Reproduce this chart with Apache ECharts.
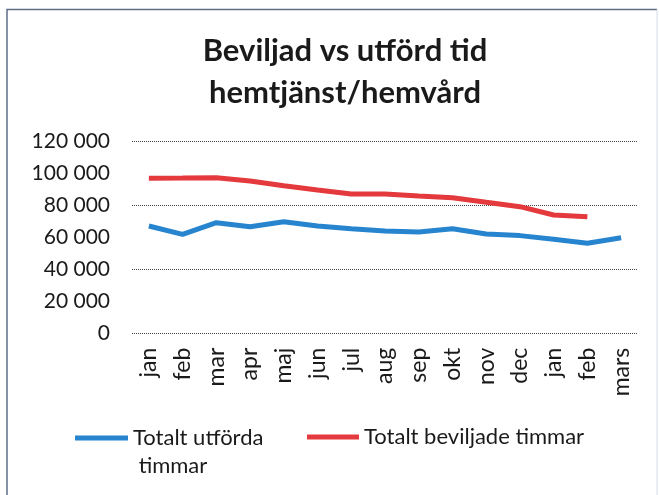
<!DOCTYPE html>
<html>
<head>
<meta charset="utf-8">
<script src="https://cdn.jsdelivr.net/npm/echarts@6/dist/echarts.min.js"></script>
<style>
html,body{margin:0;padding:0;background:#fff;}
#c{width:659px;height:495px;}
</style>
</head>
<body>
<div id="c"></div>
<script>
const months = ['jan','feb','mar','apr','maj','jun','jul','aug','sep','okt','nov','dec','jan','feb','mars'];
const utforda = [67300, 62100, 69400, 66900, 70000, 67300, 65600, 64200, 63600, 65600, 62300, 61300, 59000, 56500, 60000];
const beviljade = [97200, 97300, 97500, 95400, 92500, 89800, 87300, 87300, 86000, 85000, 82100, 79400, 74200, 73100, null];
const nameUtforda = 'Totalt utförda\ntimmar';
const nameBeviljade = 'Totalt beviljade timmar';
const titleText = 'Beviljad vs utförd tid\nhemtjänst/hemvård';

const fmt = v => String(v).replace(/\B(?=(\d{3})+(?!\d))/g, ' ');
const FONT = 'Lato';

const chart = echarts.init(document.getElementById('c'));
chart.setOption({
  animation: false,
  backgroundColor: '#fff',
  title: {
    text: titleText,
    left: 340, top: 25, textAlign: 'center',
    textStyle: { fontFamily: FONT, fontWeight: 'bold', fontSize: 31, lineHeight: 42, color: '#1a1a1a' }
  },
  graphic: [
    { type: 'polyline', shape: { points: [[7, 495], [7, 9.5], [657, 9.5]] }, style: { stroke: '#5d6e88', lineWidth: 1.5, fill: null } },
    { type: 'line', shape: { x1: 657, y1: 9.5, x2: 657, y2: 495 }, style: { stroke: '#d5dbe4', lineWidth: 1 } }
  ],
  legend: [
    {
      data: [nameUtforda], left: 75, top: 396, icon: 'rect', padding: 0,
      itemWidth: 53, itemHeight: 5, itemGap: 0,
      formatter: n => '\n' + n.replace('\n', '\n '),
      textStyle: { fontFamily: FONT, fontSize: 22, color: '#1a1a1a', lineHeight: 28 }
    },
    {
      data: [nameBeviljade], left: 307, top: 423, icon: 'rect', padding: 0,
      itemWidth: 52, itemHeight: 5, itemGap: 0,
      textStyle: { fontFamily: FONT, fontSize: 22, color: '#1a1a1a', lineHeight: 28 }
    }
  ],
  grid: { left: 132, right: 21, top: 141.7, bottom: 161.3 },
  xAxis: {
    type: 'category', data: months, boundaryGap: true,
    axisLine: { show: false }, axisTick: { show: false },
    axisLabel: { rotate: 90, margin: 14, fontFamily: FONT, fontSize: 23, color: '#1a1a1a', interval: 0 }
  },
  yAxis: [
    {
      type: 'value', min: 0, max: 120000, interval: 20000,
      axisLine: { show: false }, axisTick: { show: false }, splitLine: { show: false },
      axisLabel: { margin: 22, fontFamily: FONT, fontSize: 21, color: '#1a1a1a', formatter: fmt }
    },
    {
      type: 'value', min: 0, max: 120000, interval: 40000, position: 'left',
      axisLine: { show: false }, axisTick: { show: false }, axisLabel: { show: false },
      splitLine: { show: true, lineStyle: { color: '#444', width: 1, type: [1, 1] } }
    }
  ],
  series: [
    {
      name: nameUtforda, type: 'line', data: utforda, yAxisIndex: 0,
      symbol: 'none', lineStyle: { color: '#2784cf', width: 5 }, itemStyle: { color: '#2784cf' }
    },
    {
      name: nameBeviljade, type: 'line', data: beviljade, yAxisIndex: 0,
      symbol: 'none', lineStyle: { color: '#e4393d', width: 5 }, itemStyle: { color: '#e4393d' }
    }
  ]
});
</script>
</body>
</html>
